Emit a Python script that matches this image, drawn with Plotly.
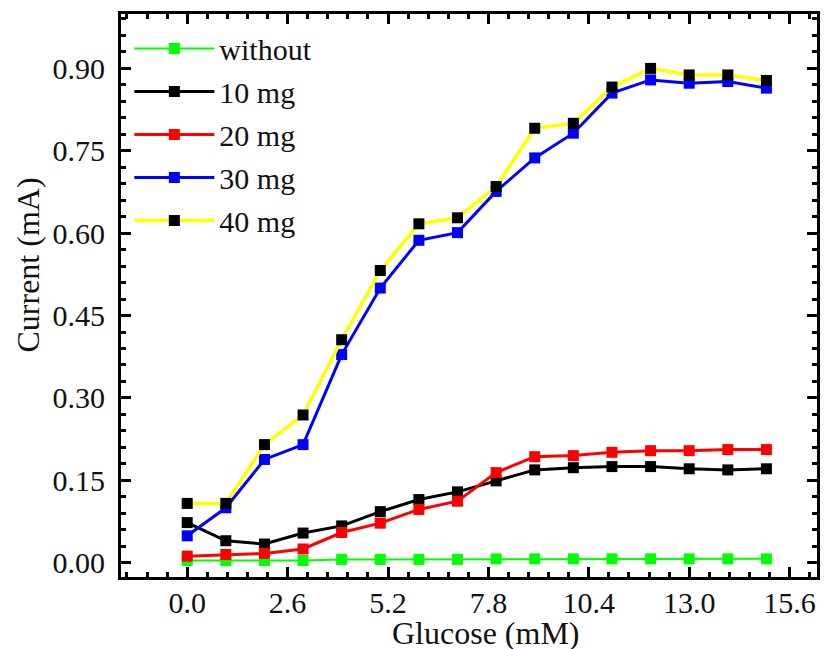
import plotly.graph_objects as go

glucose = list(range(16))
without = [0.004, 0.004, 0.004, 0.004, 0.006, 0.006, 0.006, 0.006, 0.007, 0.007, 0.007, 0.007, 0.007, 0.007, 0.007, 0.007]
mg10 = [0.073, 0.040, 0.034, 0.054, 0.067, 0.093, 0.115, 0.129, 0.149, 0.169, 0.173, 0.175, 0.175, 0.171, 0.169, 0.171]
mg20 = [0.012, 0.015, 0.017, 0.025, 0.055, 0.072, 0.097, 0.112, 0.164, 0.193, 0.195, 0.201, 0.204, 0.204, 0.206, 0.206]
mg30 = [0.049, 0.100, 0.188, 0.215, 0.379, 0.500, 0.587, 0.601, 0.676, 0.737, 0.782, 0.855, 0.879, 0.873, 0.876, 0.864]
mg40 = [0.108, 0.108, 0.215, 0.269, 0.406, 0.532, 0.617, 0.628, 0.685, 0.791, 0.800, 0.866, 0.900, 0.888, 0.888, 0.878]

names = ["without", "10 mg", "20 mg", "30 mg", "40 mg"]
series = [without, mg10, mg20, mg30, mg40]
line_colors = ["#00ff00", "#000000", "#ff0000", "#0000ff", "#ffff00"]
marker_colors = ["#00ff00", "#000000", "#ff0000", "#0000ff", "#000000"]
line_widths = [2, 3, 3, 3, 3.5]

FONT = "Liberation Serif"

fig = go.Figure()
for i, (n, s) in enumerate(zip(names, series)):
    fig.add_trace(go.Scatter(
        x=glucose, y=s, name=n, mode="lines+markers",
        legendgroup=n,
        line=dict(color=line_colors[i], width=line_widths[i]),
        marker=dict(symbol="square", size=11, color=marker_colors[i], line=dict(width=0)),
    ))

axis_common = dict(
    showline=True, linecolor="black", linewidth=3, mirror="allticks",
    ticks="inside", ticklen=10, tickwidth=3, tickcolor="black",
    showgrid=False, zeroline=False,
    tickfont=dict(family=FONT, size=30, color="#111111"),
)

fig.update_xaxes(
    range=[-1.715, 16.31], tick0=0, dtick=2.6, tickformat=".1f",
    minor=dict(ticks="inside", dtick=0.52, ticklen=5, tickwidth=3, tickcolor="black"),
    ticklabelstandoff=-3,
    **axis_common,
)
fig.update_yaxes(
    range=[-0.026, 0.999], tick0=0, dtick=0.15, tickformat=".2f",
    minor=dict(ticks="inside", dtick=0.03, ticklen=5, tickwidth=3, tickcolor="black"),
    ticklabelstandoff=7,
    **axis_common,
)

fig.update_layout(
    width=825, height=649,
    margin=dict(l=121, r=5, t=14, b=72),
    paper_bgcolor="white", plot_bgcolor="white",
    font=dict(family=FONT, size=30, color="#111111"),
    showlegend=True,
    legend=dict(
        x=0.012, y=0.985, xanchor="left", yanchor="top",
        bgcolor="rgba(0,0,0,0)", borderwidth=0,
        font=dict(family=FONT, size=30, color="#111111"),
        itemwidth=80, traceorder="grouped", tracegroupgap=1,
    ),
    annotations=[
        dict(text="Current (mA)", xref="paper", yref="paper", x=-0.133, y=0.554,
             textangle=-90, showarrow=False, font=dict(family=FONT, size=32, color="#111111"),
             xanchor="center", yanchor="middle"),
        dict(text="Glucose (mM)", xref="paper", yref="paper", x=0.525, y=-0.0995,
             showarrow=False, font=dict(family=FONT, size=32, color="#111111"),
             xanchor="center", yanchor="middle"),
    ],
)

fig.write_html("out.html")
